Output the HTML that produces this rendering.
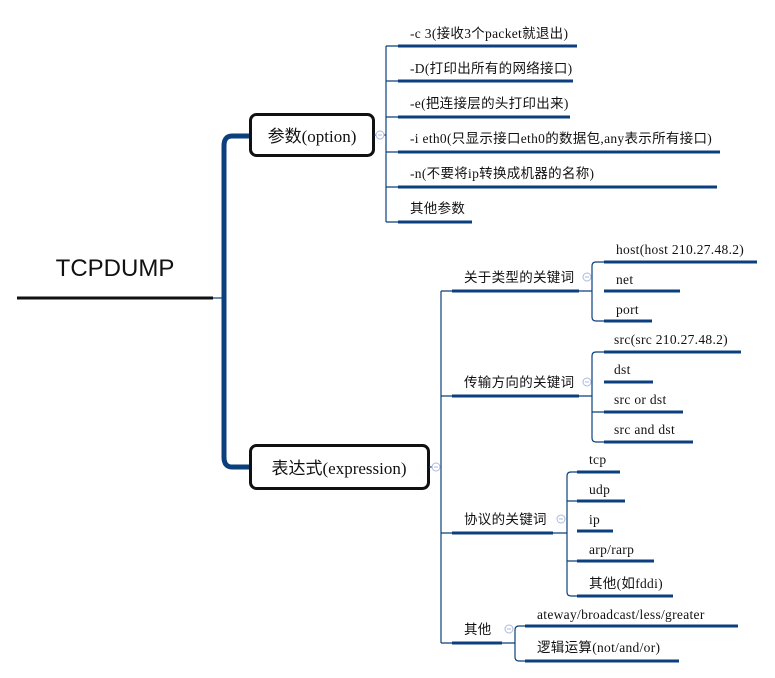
<!DOCTYPE html>
<html><head><meta charset="utf-8"><style>
html,body{margin:0;padding:0;background:#fff;width:775px;height:678px;overflow:hidden}
svg{display:block}
text{font-family:"Liberation Serif","Noto Sans CJK SC",serif;font-size:13.5px;letter-spacing:0.3px;fill:#111}
.u{stroke:#0b3f7d;stroke-width:3;fill:none}
.t{stroke:#0b3f7d;stroke-width:1.2;fill:none}
.c{fill:#fff;stroke:#aab8dd;stroke-width:1}
.m{stroke:#aab8dd;stroke-width:1}
</style></head><body>
<svg width="775" height="678" viewBox="0 0 775 678">
<text x="115" y="276" text-anchor="middle" style="font-family:'Liberation Sans',sans-serif;font-size:24px;letter-spacing:0">TCPDUMP</text>
<line x1="17" y1="298" x2="213" y2="298" stroke="#111" stroke-width="3"/>
<line x1="213" y1="298" x2="224" y2="298" class="t"/>
<path d="M249 136 H232 Q224 136 224 146 V457 Q224 467 232 467 H249" stroke="#0b3f7d" stroke-width="5" fill="none"/>
<rect x="250.5" y="114.5" width="123" height="41" rx="6" fill="#fff" stroke="#111" stroke-width="3"/>
<text x="312" y="142" text-anchor="middle" style="font-size:17px;letter-spacing:0">参数(option)</text>
<rect x="250.5" y="445.5" width="178" height="43" rx="6" fill="#fff" stroke="#111" stroke-width="3"/>
<text x="339" y="474" text-anchor="middle" style="font-size:17px;letter-spacing:0">表达式(expression)</text>
<!-- option branch -->
<line x1="374" y1="135" x2="386" y2="135" class="t"/>
<path d="M386 46 V222 M386 46 H398 M386 81 H398 M386 117 H398 M386 152 H398 M386 187 H398 M386 222 H398" class="t"/>
<circle cx="380" cy="135" r="4" class="c"/><line x1="378" y1="135" x2="382" y2="135" class="m"/>
<path d="M398 46H577 M398 81H573 M398 117H570 M398 152H720 M398 187H717 M398 222H472" class="u"/>
<text x="410" y="38">-c 3(接收3个packet就退出)</text>
<text x="410" y="73">-D(打印出所有的网络接口)</text>
<text x="410" y="108">-e(把连接层的头打印出来)</text>
<text x="410" y="143">-i eth0(只显示接口eth0的数据包,any表示所有接口)</text>
<text x="410" y="178">-n(不要将ip转换成机器的名称)</text>
<text x="410" y="213">其他参数</text>
<!-- expression branch -->
<line x1="429" y1="467" x2="441" y2="467" class="t"/>
<path d="M441 291 V643 M441 291H452 M441 396H452 M441 533H452 M441 643H452" class="t"/>
<circle cx="436" cy="467" r="4" class="c"/><line x1="434" y1="467" x2="438" y2="467" class="m"/>
<path d="M452 291H579 M452 396H579 M452 533H553 M452 643H502" class="u"/>
<text x="464" y="282">关于类型的关键词</text>
<text x="464" y="387">传输方向的关键词</text>
<text x="464" y="524">协议的关键词</text>
<text x="464" y="634">其他</text>
<!-- type -->
<path d="M579 291H592 M604 262H596 Q592 262 592 266 V317 Q592 321 596 321 H604" class="t"/>
<circle cx="587" cy="277" r="4" class="c"/><line x1="585" y1="277" x2="589" y2="277" class="m"/>
<path d="M604 262H757 M604 291H680 M604 321H652" class="u"/>
<text x="616" y="254">host(host 210.27.48.2)</text>
<text x="616" y="284">net</text>
<text x="616" y="314">port</text>
<!-- direction -->
<path d="M579 396H592 M604 352H596 Q592 352 592 356 V438 Q592 442 596 442 H604 M592 412H604" class="t"/>
<circle cx="587" cy="382" r="4" class="c"/><line x1="585" y1="382" x2="589" y2="382" class="m"/>
<path d="M604 352H741 M604 382H653 M604 412H683 M604 442H693" class="u"/>
<text x="614" y="344">src(src 210.27.48.2)</text>
<text x="614" y="374">dst</text>
<text x="614" y="404">src or dst</text>
<text x="614" y="434">src and dst</text>
<!-- protocol -->
<path d="M553 533H567 M577 472H571 Q567 472 567 476 V592 Q567 596 571 596 H577 M567 501H577 M567 561H577" class="t"/>
<circle cx="561" cy="519" r="4" class="c"/><line x1="559" y1="519" x2="563" y2="519" class="m"/>
<path d="M577 472H620 M577 501H625 M577 531H613 M577 561H654 M577 596H673" class="u"/>
<text x="589" y="464">tcp</text>
<text x="589" y="494">udp</text>
<text x="589" y="524">ip</text>
<text x="589" y="554">arp/rarp</text>
<text x="589" y="588">其他(如fddi)</text>
<!-- other -->
<path d="M502 643H515 M525 626H519 Q515 626 515 630 V657 Q515 661 519 661 H525" class="t"/>
<circle cx="509" cy="629" r="4" class="c"/><line x1="507" y1="629" x2="511" y2="629" class="m"/>
<path d="M525 626H738 M525 661H679" class="u"/>
<text x="537" y="619">ateway/broadcast/less/greater</text>
<text x="537" y="652">逻辑运算(not/and/or)</text>
</svg>
</body></html>
